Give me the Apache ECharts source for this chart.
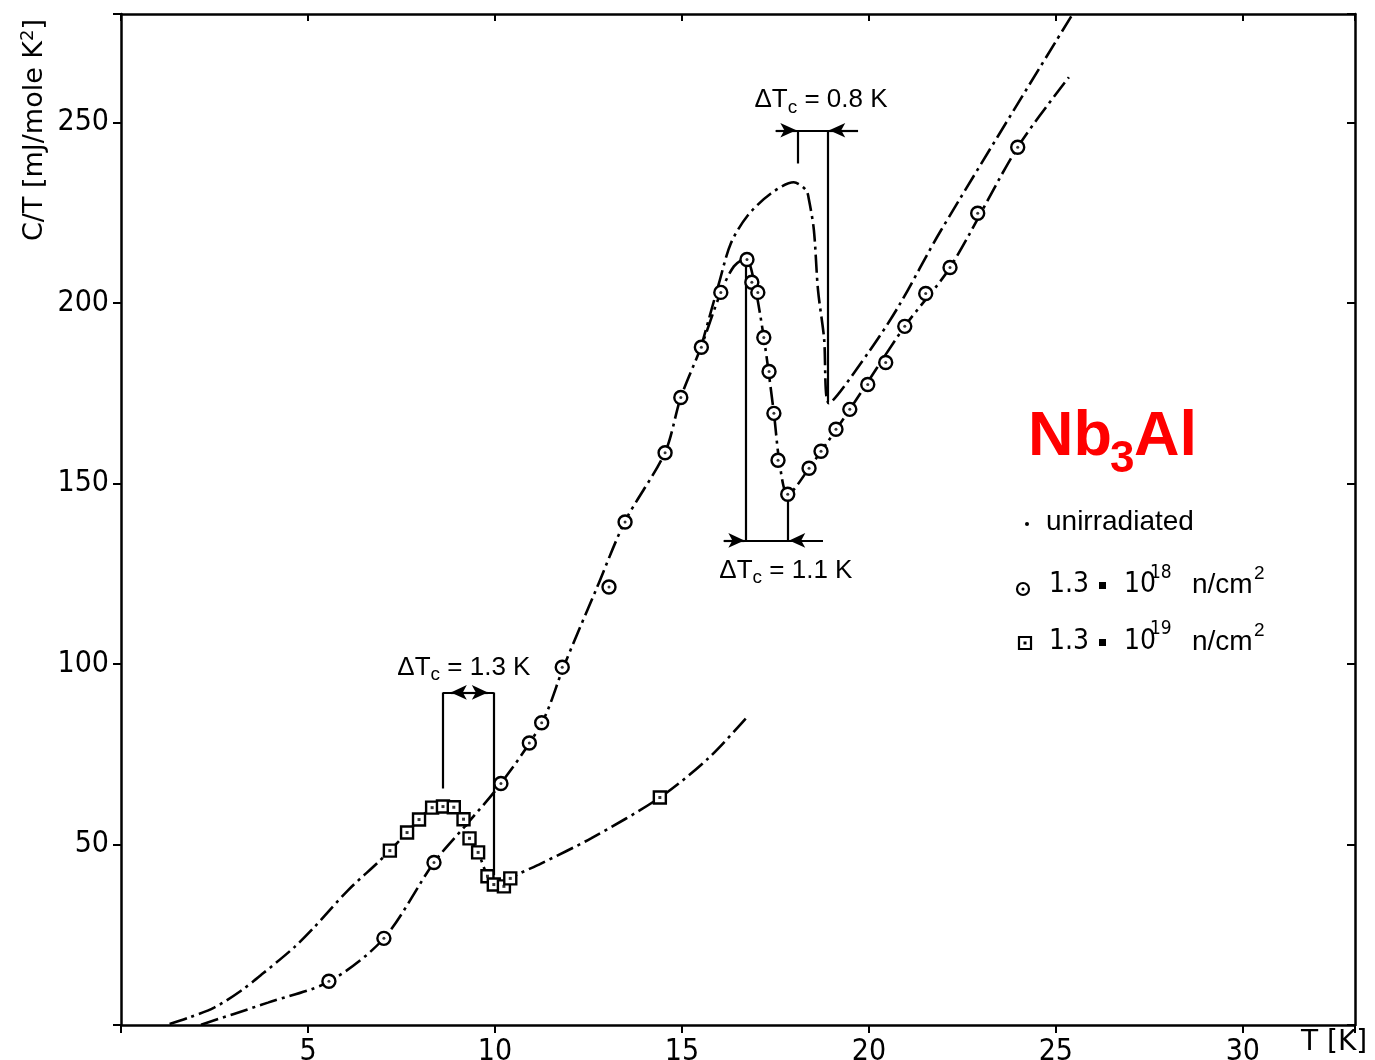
<!DOCTYPE html>
<html>
<head>
<meta charset="utf-8">
<script src="https://cdn.jsdelivr.net/npm/echarts@6/dist/echarts.min.js"></script>
<style>html,body{margin:0;padding:0;background:#fff}#c{width:1375px;height:1060px}</style>
</head>
<body>
<div id="c"></div>
<script>
// ---------- data ----------
// x tick labels / y tick labels
const xTickLabels = [5, 10, 15, 20, 25, 30];
const yTickLabels = [50, 100, 150, 200, 250];

// 1.3e18 n/cm2 (circles) measured points
const circT = [5.56, 7.03, 8.37, 10.16, 10.92, 11.25, 11.80, 13.05, 13.48, 14.55, 14.97, 15.52, 16.04, 16.74, 16.87, 17.03, 17.19, 17.33, 17.46, 17.57, 17.83, 18.40, 18.72, 19.12, 19.49, 19.97, 20.45, 20.96, 21.52, 22.17, 22.91, 23.98];
const circC = [12.1, 24.0, 45.0, 66.9, 78.1, 83.7, 99.1, 121.3, 139.3, 158.5, 173.8, 187.7, 202.9, 212.0, 205.7, 202.9, 190.4, 181.0, 169.4, 156.4, 147.0, 154.2, 158.9, 165.0, 170.5, 177.4, 183.5, 193.5, 202.6, 209.8, 224.8, 243.1];

// 1.3e19 n/cm2 (squares) measured points
const sqT = [7.19, 7.65, 7.97, 8.32, 8.61, 8.90, 9.16, 9.32, 9.55, 9.80, 9.97, 10.24, 10.41, 14.41];
const sqC = [48.3, 53.3, 56.9, 60.2, 60.5, 60.3, 57.0, 51.7, 47.8, 41.2, 38.9, 38.4, 40.6, 63.0];

// drawn curves (read along the lines of the picture)
const circLineT = [2.14, 3.0, 3.93, 5.56, 7.03, 8.37, 9.22, 10.16, 11.26, 11.84, 12.73, 13.48, 14.55, 14.97, 15.51, 16.04, 16.39, 16.71, 16.90, 17.19, 17.46, 17.62, 17.83, 18.40, 19.49, 20.96, 22.17, 23.98, 25.35];
const circLineC = [0.1, 3.0, 6.2, 12.0, 24.0, 45.0, 55.3, 66.9, 83.8, 99.3, 121.2, 139.5, 158.6, 173.8, 187.7, 202.9, 210.1, 212.3, 207.3, 190.4, 169.4, 155.0, 147.0, 154.2, 170.5, 193.5, 209.8, 243.1, 262.5];

const unirrLineT = [15.51, 15.99, 16.31, 16.76, 17.38, 17.99, 18.32, 18.40, 18.53, 18.64, 18.80, 18.93, 19.97, 20.78, 21.93, 25.45];
const unirrLineC = [187.7, 205.4, 216.5, 224.2, 230.3, 233.4, 231.2, 228.4, 220.1, 203.5, 190.4, 172.2, 186.0, 198.8, 220.1, 280.0];

const sqLineT = [1.3, 1.8, 2.49, 3.21, 3.80, 4.63, 5.16, 6.07, 6.87, 7.19, 7.65, 7.97, 8.32, 8.61, 8.90, 9.16, 9.32, 9.55, 9.80, 9.97, 10.24, 10.41, 11.23, 12.57, 14.41, 15.70, 16.71];
const sqLineC = [0.3, 2.0, 4.8, 9.5, 14.3, 21.5, 27.0, 37.3, 45.0, 48.3, 53.3, 56.9, 60.2, 60.5, 60.3, 57.0, 51.7, 47.8, 41.2, 38.9, 38.4, 40.6, 44.7, 51.7, 63.0, 73.8, 84.9];

// Delta Tc annotations (data coordinates: [T1, C1, T2, C2])
const annotLines = [
  [17.51, 247.8, 19.71, 247.8], [18.10, 247.8, 18.10, 238.6], [18.90, 247.8, 18.90, 172.5],
  [16.12, 134.2, 18.77, 134.2], [16.71, 212.0, 16.71, 134.2], [17.83, 146.0, 17.83, 134.2],
  [8.61, 92.1, 9.97, 92.1], [8.61, 92.1, 8.61, 65.5], [9.97, 92.1, 9.97, 41.5]
];
const annotArrows = [
  [17.51, 247.8, 18.06, 247.8], [19.71, 247.8, 18.94, 247.8],
  [16.12, 134.2, 16.67, 134.2], [18.77, 134.2, 17.87, 134.2],
  [9.29, 92.1, 8.82, 92.1], [9.29, 92.1, 9.81, 92.1]
];
const annotTexts = [[18.72, 256.1, '0.8 K'], [17.78, 125.9, '1.1 K'], [9.17, 99.0, '1.3 K']];

// ---------- chart ----------
const pairs = (xs, ys) => xs.map((x, i) => [x, ys[i]]);
const INK = '#000';
const NUMFONT = "'Liberation Sans Narrow','DejaVu Sans Condensed','Liberation Sans',sans-serif";
const TXTFONT = "'Liberation Sans',Arial,sans-serif";
const DASHDOT = [18, 5, 3, 5];
const SMOOTH = 0.3;

const chart = echarts.init(document.getElementById('c'), null, {renderer: 'canvas'});

const baseAxis = {
  type: 'value',
  axisLine: {show: true, onZero: false, lineStyle: {color: INK, width: 2.5}},
  splitLine: {show: false}
};

const option = {
  animation: false,
  backgroundColor: '#fff',
  grid: {left: 121, right: 20, top: 14, bottom: 35, outerBoundsMode: 'none'},
  xAxis: [
    Object.assign({}, baseAxis, {
      min: 0, max: 33, interval: 5, position: 'bottom',
      axisTick: {show: true, inside: false, length: 8, lineStyle: {color: INK, width: 2}},
      axisLabel: {show: true, margin: 12, fontSize: 30, fontFamily: NUMFONT, color: INK,
        formatter: v => xTickLabels.indexOf(v) >= 0 ? String(v) : ''}
    }),
    Object.assign({}, baseAxis, {
      min: 0, max: 33, interval: 5, position: 'top',
      axisTick: {show: true, inside: true, length: 7, lineStyle: {color: INK, width: 2}},
      axisLabel: {show: false}
    })
  ],
  yAxis: [
    Object.assign({}, baseAxis, {
      min: 0, max: 280, interval: 50, position: 'left',
      axisTick: {show: true, inside: false, length: 8, lineStyle: {color: INK, width: 2}},
      axisLabel: {show: true, margin: 12, fontSize: 30, fontFamily: NUMFONT, color: INK,
        formatter: v => yTickLabels.indexOf(v) >= 0 ? String(v) : ''}
    }),
    Object.assign({}, baseAxis, {
      min: 0, max: 280, interval: 50, position: 'right',
      axisTick: {show: true, inside: true, length: 8, lineStyle: {color: INK, width: 2}},
      axisLabel: {show: false}
    })
  ],
  series: [
    {
      name: 'unirradiated', type: 'line', data: pairs(unirrLineT, unirrLineC),
      showSymbol: false, smooth: SMOOTH, z: 2,
      lineStyle: {color: INK, width: 2.6, type: DASHDOT},
      markLine: {
        silent: true, animation: false, symbol: 'none', label: {show: false},
        lineStyle: {color: INK, width: 2.2, type: 'solid'},
        data: annotLines.map(l => [{coord: [l[0], l[1]]}, {coord: [l[2], l[3]]}])
          .concat(annotArrows.map(l => [{coord: [l[0], l[1]], symbol: 'none'},
                                        {coord: [l[2], l[3]], symbol: 'arrow', symbolSize: [11, 16]}]))
      },
      markPoint: {
        silent: true, animation: false, symbol: 'circle', symbolSize: 1,
        itemStyle: {color: 'rgba(0,0,0,0)'},
        label: {
          show: true, position: 'inside', color: INK,
          formatter: p => '{a|ΔT}{s|c}{a| = ' + p.name + '}',
          rich: {
            a: {fontSize: 26, fontFamily: TXTFONT, color: INK, lineHeight: 34},
            s: {fontSize: 19, fontFamily: TXTFONT, color: INK, lineHeight: 19, verticalAlign: 'bottom'}
          }
        },
        data: annotTexts.map(t => ({name: t[2], coord: [t[0], t[1]]}))
      }
    },
    {
      name: 'curve18', type: 'line', data: pairs(circLineT, circLineC),
      showSymbol: false, smooth: SMOOTH, z: 2,
      lineStyle: {color: INK, width: 2.6, type: DASHDOT}
    },
    {
      name: 'curve19', type: 'line', data: pairs(sqLineT, sqLineC),
      showSymbol: false, smooth: SMOOTH, z: 2,
      lineStyle: {color: INK, width: 2.6, type: DASHDOT}
    },
    {
      name: '1.3e18', type: 'scatter', data: pairs(circT, circC), z: 5,
      symbol: 'circle', symbolSize: 13,
      itemStyle: {color: '#fff', borderColor: INK, borderWidth: 2.4, opacity: 1}
    },
    {
      name: '1.3e18c', type: 'scatter', data: pairs(circT, circC), z: 6,
      symbol: 'circle', symbolSize: 3, itemStyle: {color: INK}
    },
    {
      name: '1.3e19', type: 'scatter', data: pairs(sqT, sqC), z: 5,
      symbol: 'rect', symbolSize: 12,
      itemStyle: {color: '#fff', borderColor: INK, borderWidth: 2.4, opacity: 1}
    },
    {
      name: '1.3e19c', type: 'scatter', data: pairs(sqT, sqC), z: 6,
      symbol: 'rect', symbolSize: 3, itemStyle: {color: INK}
    }
  ],
  graphic: [
    // y axis title
    {type: 'text', x: 35, y: 130, rotation: Math.PI / 2, z: 10,
      style: {text: '{m|C/T [mJ/mole K}{p|2}{m|]}', align: 'center', verticalAlign: 'middle',
        rich: {
          m: {fontSize: 27, fontFamily: "'DejaVu Sans',sans-serif", fill: INK, lineHeight: 32},
          p: {fontSize: 18, fontFamily: "'DejaVu Sans',sans-serif", fill: INK, lineHeight: 18, verticalAlign: 'top'}
        }}},
    // x axis title
    {type: 'text', x: 1301, y: 1043, z: 10,
      style: {text: 'T [K]', fontSize: 28, fontFamily: "'DejaVu Sans',sans-serif", fill: INK, align: 'left', verticalAlign: 'middle'}},
    // Nb3Al
    {type: 'text', x: 1028, y: 438, z: 10,
      style: {text: 'Nb', fontSize: 63, fontWeight: 'bold', fontFamily: TXTFONT, fill: '#ff0000', align: 'left', verticalAlign: 'middle'}},
    {type: 'text', x: 1110, y: 460, z: 10,
      style: {text: '3', fontSize: 44, fontWeight: 'bold', fontFamily: TXTFONT, fill: '#ff0000', align: 'left', verticalAlign: 'middle'}},
    {type: 'text', x: 1134, y: 438, z: 10,
      style: {text: 'Al', fontSize: 63, fontWeight: 'bold', fontFamily: TXTFONT, fill: '#ff0000', align: 'left', verticalAlign: 'middle'}},
    // legend row 1
    {type: 'circle', shape: {cx: 1027, cy: 524, r: 2}, style: {fill: INK}, z: 10},
    {type: 'text', x: 1046, y: 522, z: 10,
      style: {text: 'unirradiated', fontSize: 28, fontFamily: TXTFONT, fill: INK, align: 'left', verticalAlign: 'middle'}},
    // legend row 2
    {type: 'circle', shape: {cx: 1023, cy: 589, r: 6}, style: {fill: '#fff', stroke: INK, lineWidth: 2.2}, z: 10},
    {type: 'circle', shape: {cx: 1023, cy: 589, r: 1.5}, style: {fill: INK}, z: 11},
    {type: 'text', x: 1049, y: 585, z: 10, style: {text: '1.3', fontSize: 28, fontFamily: NUMFONT, fill: INK, align: 'left', verticalAlign: 'middle'}},
    {type: 'rect', shape: {x: 1099, y: 582, width: 7, height: 7}, style: {fill: INK}, z: 10},
    {type: 'text', x: 1124, y: 585, z: 10, style: {text: '10', fontSize: 28, fontFamily: NUMFONT, fill: INK, align: 'left', verticalAlign: 'middle'}},
    {type: 'text', x: 1150, y: 573, z: 10, style: {text: '18', fontSize: 19, fontFamily: NUMFONT, fill: INK, align: 'left', verticalAlign: 'middle'}},
    {type: 'text', x: 1192, y: 585, z: 10, style: {text: 'n/cm', fontSize: 28, fontFamily: TXTFONT, fill: INK, align: 'left', verticalAlign: 'middle'}},
    {type: 'text', x: 1254, y: 574, z: 10, style: {text: '2', fontSize: 19, fontFamily: TXTFONT, fill: INK, align: 'left', verticalAlign: 'middle'}},
    // legend row 3
    {type: 'rect', shape: {x: 1019, y: 637, width: 12, height: 12}, style: {fill: '#fff', stroke: INK, lineWidth: 2.2}, z: 10},
    {type: 'rect', shape: {x: 1023.5, y: 641.5, width: 3, height: 3}, style: {fill: INK}, z: 11},
    {type: 'text', x: 1049, y: 642, z: 10, style: {text: '1.3', fontSize: 28, fontFamily: NUMFONT, fill: INK, align: 'left', verticalAlign: 'middle'}},
    {type: 'rect', shape: {x: 1099, y: 639, width: 7, height: 7}, style: {fill: INK}, z: 10},
    {type: 'text', x: 1124, y: 642, z: 10, style: {text: '10', fontSize: 28, fontFamily: NUMFONT, fill: INK, align: 'left', verticalAlign: 'middle'}},
    {type: 'text', x: 1150, y: 629, z: 10, style: {text: '19', fontSize: 19, fontFamily: NUMFONT, fill: INK, align: 'left', verticalAlign: 'middle'}},
    {type: 'text', x: 1192, y: 642, z: 10, style: {text: 'n/cm', fontSize: 28, fontFamily: TXTFONT, fill: INK, align: 'left', verticalAlign: 'middle'}},
    {type: 'text', x: 1254, y: 631, z: 10, style: {text: '2', fontSize: 19, fontFamily: TXTFONT, fill: INK, align: 'left', verticalAlign: 'middle'}}
  ]
};

chart.setOption(option);
</script>
</body>
</html>
